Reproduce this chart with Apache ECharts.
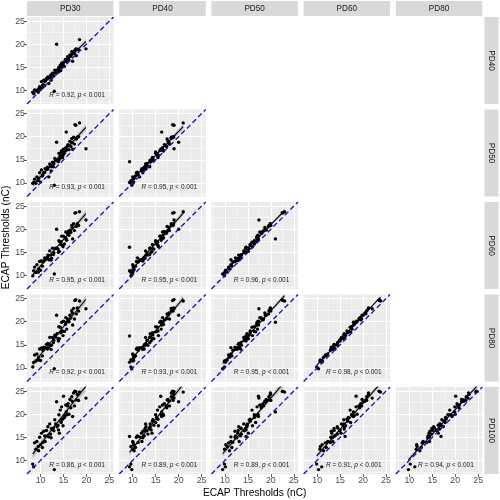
<!DOCTYPE html>
<html>
<head>
<meta charset="utf-8">
<script src="https://cdn.jsdelivr.net/npm/echarts@6/dist/echarts.min.js"></script>
<style>
  html, body { margin: 0; padding: 0; background: #fff; }
  #main { width: 500px; height: 500px; }
</style>
</head>
<body>
<div id="main"></div>
<script>
// stimulation thresholds (nC) per subject at each pulse duration
var pd30 = [8.3, 8.5, 8.7, 9.0, 9.2, 9.5, 9.8, 10.0, 10.2, 10.5,
  10.7, 10.9, 11.0, 11.3, 11.5, 11.8, 12.0, 12.2, 12.4, 12.6,
  12.8, 13.0, 13.1, 13.3, 13.5, 13.6, 13.8, 14.0, 14.1, 14.3,
  14.5, 14.6, 14.8, 15.0, 15.2, 15.4, 15.5, 15.7, 15.9, 16.0,
  16.2, 16.4, 16.6, 16.8, 17.0, 17.2, 17.4, 17.5, 17.7, 18.0,
  18.3, 19.9, 15.6, null, 14.9, 12.9, 11.6, 13.9, 10.4, 16.9,
  9.6, 14.4, 12.3, 17.8, 18.5];
var pd40 = [9.6, 9.3, 10.1, 10.0, 10.0, 9.6, 10.8, 10.2, 11.9, 11.2,
  12.2, 11.0, 12.0, 12.6, 12.5, 11.5, 12.8, 13.3, 12.7, 13.7,
  13.7, 9.8, 14.4, 13.8, 20.0, 13.8, 14.6, 15.0, 14.2, 15.4,
  15.0, 15.9, 15.5, 16.1, 15.2, 16.7, 16.5, 16.2, 17.3, 16.9,
  16.6, 17.7, 17.4, 18.4, 16.3, 18.4, 18.0, 18.7, 19.0, 18.9,
  18.8, 19.0, 16.3, 9.3, 15.6, 13.1, 12.9, 14.0, 10.6, 17.9,
  10.3, 14.3, 12.2, 17.5, 21.0];
var pd50 = [9.9, 10.1, 10.8, 9.9, 11.3, 10.5, 12.2, 10.2, 12.8, 11.7,
  12.2, 12.3, 13.1, 12.9, 13.4, 11.3, 14.1, 13.6, 13.5, 14.5,
  13.5, 9.5, 15.3, 14.9, 18.8, 14.8, 14.8, 16.4, 15.1, 15.9,
  16.7, 17.0, 15.5, 17.3, 16.4, 16.9, 17.6, 17.1, 18.0, 18.3,
  17.2, 19.0, 17.9, 19.6, 17.3, 19.9, 18.4, 22.6, 22.5, 19.9,
  20.0, 17.4, 21.0, 14.6, 16.0, 14.2, 13.0, 14.6, 11.5, 18.7,
  11.0, 15.5, 12.6, 19.5, 23.0];
var pd60 = [9.9, 11.0, 11.8, 10.6, 12.3, 10.7, 13.0, 11.1, 13.2, 12.9,
  13.1, 13.8, 13.4, 13.7, 13.9, 13.4, 15.3, 14.4, 13.7, 15.9,
  14.5, 10.3, 15.8, 15.9, 20.0, 15.9, 15.7, 17.5, 15.2, 17.2,
  17.3, 18.5, 16.5, 18.5, 16.8, 18.1, 19.4, 17.6, 19.1, 19.5,
  18.7, 19.8, 19.3, 20.8, 17.9, 21.2, 19.7, 23.5, 23.6, 21.2,
  20.8, 22.0, 17.9, 16.1, 16.2, 14.9, 14.4, 15.0, 12.0, 20.4,
  11.4, 16.7, 13.3, 20.6, 23.8];
var pd80 = [10.2, 11.2, 12.8, 11.5, 13.0, 11.7, 14.1, 11.6, 14.3, 13.8,
  14.5, 14.3, 14.4, 15.1, 14.1, 14.4, 16.6, 14.9, 14.9, 16.6,
  15.5, 9.8, 17.1, 16.7, 21.4, 17.4, 16.3, 18.9, 16.3, 18.8,
  17.8, 19.9, 18.0, 20.1, 17.9, 19.4, 20.9, 18.4, 20.6, 20.4,
  20.0, 21.4, 20.8, 22.4, 19.3, 22.9, 20.6, 24.6, 24.8, 23.0,
  22.3, 22.8, 19.9, 16.9, 17.0, 16.0, 15.3, 15.8, 12.6, 21.9,
  12.3, 17.6, 14.0, 21.7, 24.5];
var pd100 = [9.2, 8.6, 13.8, 12.4, 14.1, 13.0, 15.0, 13.4, 15.9, 13.9,
  16.3, 15.3, 14.1, 16.5, 15.3, 15.1, 17.9, 15.7, 16.9, 16.8,
  17.0, 8.0, 18.8, 17.9, 22.7, 17.3, 17.6, 19.9, 15.9, 20.9,
  18.2, 21.6, 18.9, 23.9, 19.3, 19.7, 22.0, 19.9, 21.8, 22.3,
  20.0, 23.2, 21.4, 23.8, 19.5, 24.6, 21.8, 25.0, 24.9, 24.3,
  23.0, 23.5, 20.5, 15.2, 17.5, 16.4, 17.3, 16.6, 12.8, 22.8,
  12.1, 18.5, 14.9, 23.1, 24.8];

var colLabels = ['PD30', 'PD40', 'PD50', 'PD60', 'PD80'];
var rowLabels = ['PD40', 'PD50', 'PD60', 'PD80', 'PD100'];
var colData = [pd30, pd40, pd50, pd60, pd80];
var rowData = [pd40, pd50, pd60, pd80, pd100];
// R printed in each panel, row by row
var rLabels = [
  ['0.92'],
  ['0.93', '0.95'],
  ['0.95', '0.95', '0.96'],
  ['0.92', '0.93', '0.95', '0.98'],
  ['0.86', '0.89', '0.89', '0.91', '0.94']
];
var pLabel = '< 0.001';
var tickValues = [10, 15, 20, 25];
var minorValues = [7.5, 12.5, 17.5, 22.5];
var axisMin = 7.05, axisMax = 25.9;
var axisTitle = 'ECAP Thresholds (nC)';

var FONT = '"Liberation Sans", Arial, Helvetica, sans-serif';
var P_LEFT = 27, P_TOP = 17, P_W = 86.5, P_H = 87, COL_STEP = 92.2, ROW_STEP = 92.5;

// least squares fit + 95% band of the mean
function fitLine(xv, yv) {
  var pts = [];
  for (var k = 0; k < xv.length; k++) {
    if (xv[k] != null && yv[k] != null) pts.push([xv[k], yv[k]]);
  }
  var n = pts.length, mx = 0, my = 0;
  pts.forEach(function (p) { mx += p[0]; my += p[1]; });
  mx /= n; my /= n;
  var sxx = 0, sxy = 0;
  pts.forEach(function (p) { sxx += (p[0] - mx) * (p[0] - mx); sxy += (p[0] - mx) * (p[1] - my); });
  var b1 = sxy / sxx, b0 = my - b1 * mx;
  var sse = 0;
  pts.forEach(function (p) { var r = p[1] - b0 - b1 * p[0]; sse += r * r; });
  var s = Math.sqrt(sse / (n - 2)), t = 2.0;
  var x0 = Math.min.apply(null, pts.map(function (p) { return p[0]; }));
  var x1 = Math.max.apply(null, pts.map(function (p) { return p[0]; }));
  var line = [], up = [], lo = [];
  for (var q = 0; q <= 40; q++) {
    var x = x0 + (x1 - x0) * q / 40;
    var yh = b0 + b1 * x;
    var se = s * Math.sqrt(1 / n + (x - mx) * (x - mx) / sxx);
    line.push([x, yh]);
    up.push([x, yh + t * se]);
    lo.push([x, yh - t * se]);
  }
  return { pts: pts, line: line, up: up, lo: lo };
}

function bandRenderer(fit) {
  return function (params, api) {
    var poly = fit.up.map(function (p) { return api.coord(p); })
      .concat(fit.lo.slice().reverse().map(function (p) { return api.coord(p); }));
    return { type: 'polygon', shape: { points: poly }, style: { fill: 'rgba(153,153,153,0.45)' } };
  };
}

var option = { animation: false, grid: [], xAxis: [], yAxis: [], series: [], graphic: [] };
var gridLines = [];
tickValues.forEach(function (v) {
  gridLines.push({ xAxis: v, lineStyle: { color: '#fff', width: 1.1, type: 'solid' } });
  gridLines.push({ yAxis: v, lineStyle: { color: '#fff', width: 1.1, type: 'solid' } });
});
minorValues.forEach(function (v) {
  gridLines.push({ xAxis: v, lineStyle: { color: '#fff', width: 0.5, type: 'solid' } });
  gridLines.push({ yAxis: v, lineStyle: { color: '#fff', width: 0.5, type: 'solid' } });
});

var g = 0;
for (var i = 0; i < 5; i++) {
  for (var j = 0; j <= i; j++) {
    var L = P_LEFT + j * COL_STEP, T = P_TOP + i * ROW_STEP;
    var bottom = (i === 4), left = (j === 0);
    option.grid.push({ left: L, top: T, width: P_W, height: P_H, show: true,
      backgroundColor: '#ebebeb', borderWidth: 0, containLabel: false, outerBoundsMode: 'none' });
    option.xAxis.push({ type: 'value', gridIndex: g, min: axisMin, max: axisMax,
      axisLine: { show: false }, splitLine: { show: false },
      axisTick: { show: bottom, customValues: tickValues, length: 3, lineStyle: { color: '#333', width: 0.8 } },
      axisLabel: { show: bottom, customValues: tickValues, margin: 2, color: '#4d4d4d', fontSize: 8.8, fontFamily: FONT }
    });
    option.yAxis.push({ type: 'value', gridIndex: g, min: axisMin, max: axisMax,
      axisLine: { show: false }, splitLine: { show: false },
      axisTick: { show: left, customValues: tickValues, length: 3, lineStyle: { color: '#333', width: 0.8 } },
      axisLabel: { show: left, customValues: tickValues, margin: 2, color: '#4d4d4d', fontSize: 8.8, fontFamily: FONT }
    });

    var fit = fitLine(colData[j], rowData[i]);

    // panel grid lines (markLine has its own z, keep it at the bottom)
    option.series.push({ type: 'line', xAxisIndex: g, yAxisIndex: g, z: 1, silent: true,
      data: [[axisMin, axisMin]], showSymbol: false, lineStyle: { opacity: 0 },
      markLine: { z: 1, silent: true, symbol: ['none', 'none'], label: { show: false }, animation: false, data: gridLines } });
    option.series.push({ type: 'custom', xAxisIndex: g, yAxisIndex: g, z: 10, silent: true, clip: true,
      data: [[15, 15]], renderItem: bandRenderer(fit) });
    option.series.push({ type: 'scatter', xAxisIndex: g, yAxisIndex: g, z: 11, silent: true,
      data: fit.pts, symbol: 'circle', symbolSize: 3.4, itemStyle: { color: '#000', borderWidth: 0, opacity: 1 } });
    option.series.push({ type: 'line', xAxisIndex: g, yAxisIndex: g, z: 12, silent: true,
      data: fit.line, showSymbol: false, lineStyle: { color: '#000', width: 1.1 } });
    option.series.push({ type: 'line', xAxisIndex: g, yAxisIndex: g, z: 13, silent: true,
      data: [[axisMin, axisMin], [axisMax, axisMax]], showSymbol: false,
      lineStyle: { color: '#1a1ab4', width: 1.4, type: [5, 3] } });

    option.graphic.push({ type: 'text', x: L + 22.3, y: T + 78, z: 100, silent: true,
      style: { text: '{i|R}{n| = ' + rLabels[i][j] + ', }{i|p}{n| ' + pLabel + '}',
        verticalAlign: 'middle', align: 'left',
        rich: {
          i: { fontStyle: 'italic', fontSize: 6.5, fontFamily: FONT, fill: '#222' },
          n: { fontSize: 6.5, fontFamily: FONT, fill: '#222' }
        } } });
    g++;
  }
}

// top strips
colLabels.forEach(function (lab, j) {
  var L = P_LEFT + j * COL_STEP;
  option.graphic.push({ type: 'rect', z: 100, silent: true, shape: { x: L, y: 1, width: P_W, height: 15 }, style: { fill: '#d9d9d9' } });
  option.graphic.push({ type: 'text', z: 101, silent: true, x: L + P_W / 2, y: 8.7,
    style: { text: lab, fill: '#1a1a1a', fontSize: 8.2, fontFamily: FONT, align: 'center', verticalAlign: 'middle' } });
});
// right strips
rowLabels.forEach(function (lab, i) {
  var T = P_TOP + i * ROW_STEP;
  option.graphic.push({ type: 'rect', z: 100, silent: true, shape: { x: 484.5, y: T, width: 14, height: P_H }, style: { fill: '#d9d9d9' } });
  option.graphic.push({ type: 'text', z: 101, silent: true, x: 491.5, y: T + P_H / 2, rotation: -Math.PI / 2,
    style: { text: lab, fill: '#1a1a1a', fontSize: 8.2, fontFamily: FONT, align: 'center', verticalAlign: 'middle' } });
});
// axis titles
option.graphic.push({ type: 'text', z: 101, silent: true, x: 254.7, y: 493,
  style: { text: axisTitle, fill: '#000', fontSize: 10.2, fontFamily: FONT, align: 'center', verticalAlign: 'middle' } });
option.graphic.push({ type: 'text', z: 101, silent: true, x: 6.5, y: 237.5, rotation: Math.PI / 2,
  style: { text: axisTitle, fill: '#000', fontSize: 10.2, fontFamily: FONT, align: 'center', verticalAlign: 'middle' } });

var chart = echarts.init(document.getElementById('main'), null, { renderer: 'canvas' });
chart.setOption(option);
</script>
</body>
</html>
